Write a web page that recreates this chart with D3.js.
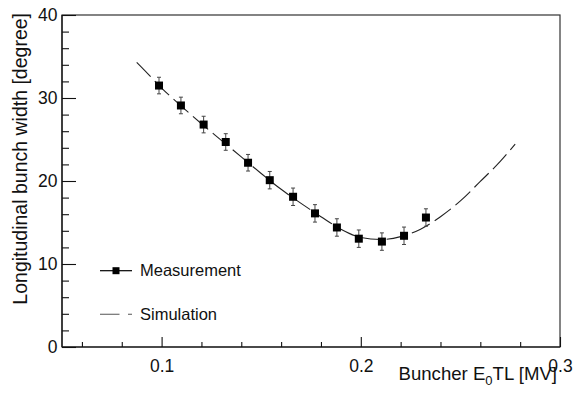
<!DOCTYPE html>
<html>
<head>
<meta charset="utf-8">
<script src="https://cdn.jsdelivr.net/npm/d3@7"></script>
<style>
  html, body { margin: 0; padding: 0; background: #fff; }
  svg { display: block; font-family: "Liberation Sans", Arial, Helvetica, sans-serif; }
</style>
</head>
<body>
<svg id="chart" width="575" height="397"></svg>
<script>
// ---- data ----
const measX   = [0.0987, 0.1097, 0.1211, 0.1322, 0.1434, 0.1543, 0.1660, 0.1770, 0.1880, 0.1990, 0.2106, 0.2217, 0.2327];
const measY   = [31.5, 29.1, 26.8, 24.7, 22.2, 20.1, 18.1, 16.1, 14.4, 13.05, 12.7, 13.4, 15.6];
const measErr = [1.0, 1.0, 1.0, 1.0, 1.0, 1.05, 1.05, 1.05, 1.05, 1.05, 1.05, 1.05, 1.05];

const simX = [0.0875, 0.09, 0.10, 0.11, 0.12, 0.13, 0.14, 0.15, 0.16, 0.17, 0.18, 0.19, 0.20, 0.21, 0.22, 0.23, 0.24, 0.25, 0.26, 0.27, 0.2775];
const simY = [34.3, 33.7, 31.2, 29.0, 26.9, 24.9, 22.9, 20.9, 19.0, 17.3, 15.7, 14.2, 13.2, 12.95, 13.3, 14.2, 15.7, 17.6, 19.95, 22.35, 24.45];

const xMajorTicks = [0.1, 0.2, 0.3];
const xMinorTicks = [0.06, 0.08, 0.12, 0.14, 0.16, 0.18, 0.22, 0.24, 0.26, 0.28];
const yMajorTicks = [0, 10, 20, 30, 40];
const yMinorTicks = [2, 4, 6, 8, 12, 14, 16, 18, 22, 24, 26, 28, 32, 34, 36, 38];

const xTitleMain = "Buncher E";
const xTitleSub = "0";
const xTitleRest = "TL [MV]";
const yTitle = "Longitudinal bunch width [degree]";
const legendLabels = ["Measurement", "Simulation"];

// ---- layout ----
const L = 62, R = 560, T = 15, B = 347;
const svg = d3.select("#chart");
const x = d3.scaleLinear().domain([0.05, 0.3]).range([L, R]);
const y = d3.scaleLinear().domain([0, 40]).range([B, T]);

// frame
svg.append("rect").attr("x", L).attr("y", T).attr("width", R - L).attr("height", B - T)
  .attr("fill", "none").attr("stroke", "#333").attr("stroke-width", 1.2);

function styleAxis(g) {
  g.select(".domain").remove();
  g.selectAll(".tick line").attr("stroke", "#111").attr("stroke-width", 1.1);
  g.selectAll("text").attr("fill", "#111").style("font-size", "17.5px")
    .style("font-family", '"Liberation Sans", Arial, sans-serif');
}

// y axis
svg.append("g").attr("transform", `translate(${L},0)`)
  .call(d3.axisLeft(y).tickValues(yMinorTicks).tickSize(-7).tickSizeOuter(0).tickFormat(""))
  .call(styleAxis);
svg.append("g").attr("transform", `translate(${L},0)`)
  .call(d3.axisLeft(y).tickValues(yMajorTicks).tickSize(-14).tickSizeOuter(0).tickPadding(4.5).tickFormat(d3.format("d")))
  .call(styleAxis);

// x axis
svg.append("g").attr("transform", `translate(0,${B})`)
  .call(d3.axisBottom(x).tickValues(xMinorTicks).tickSize(-5).tickSizeOuter(0).tickFormat(""))
  .call(styleAxis);
svg.append("g").attr("transform", `translate(0,${B})`)
  .call(d3.axisBottom(x).tickValues(xMajorTicks).tickSize(-10).tickSizeOuter(0).tickPadding(13).tickFormat(d3.format(".1f")))
  .call(styleAxis);

// frame lines redraw for left/bottom emphasis
svg.append("line").attr("x1", L).attr("x2", L).attr("y1", T).attr("y2", B).attr("stroke", "#111").attr("stroke-width", 1.2);
svg.append("line").attr("x1", L).attr("x2", R).attr("y1", B).attr("y2", B).attr("stroke", "#111").attr("stroke-width", 1.2);

// simulation curve
const simData = simX.map((d, i) => [d, simY[i]]);
svg.append("path").datum(simData)
  .attr("d", d3.line().x(d => x(d[0])).y(d => y(d[1])).curve(d3.curveMonotoneX))
  .attr("fill", "none").attr("stroke", "#222").attr("stroke-width", 1.1)
  .attr("stroke-dasharray", "20,6");

// measurement error bars + markers
const meas = measX.map((d, i) => ({x: d, y: measY[i], e: measErr[i]}));
const eb = svg.append("g").attr("stroke", "#444").attr("stroke-width", 1);
eb.selectAll("line.v").data(meas).join("line").attr("class", "v")
  .attr("x1", d => x(d.x)).attr("x2", d => x(d.x))
  .attr("y1", d => y(d.y - d.e)).attr("y2", d => y(d.y + d.e));
eb.selectAll("line.t").data(meas).join("line").attr("class", "t")
  .attr("x1", d => x(d.x) - 2).attr("x2", d => x(d.x) + 2)
  .attr("y1", d => y(d.y + d.e)).attr("y2", d => y(d.y + d.e));
eb.selectAll("line.b").data(meas).join("line").attr("class", "b")
  .attr("x1", d => x(d.x) - 2).attr("x2", d => x(d.x) + 2)
  .attr("y1", d => y(d.y - d.e)).attr("y2", d => y(d.y - d.e));
svg.append("g").selectAll("rect").data(meas).join("rect")
  .attr("x", d => x(d.x) - 4).attr("y", d => y(d.y) - 4)
  .attr("width", 8).attr("height", 8).attr("fill", "#000");

// legend
const lg = svg.append("g");
lg.append("line").attr("x1", 100).attr("x2", 132).attr("y1", 270.7).attr("y2", 270.7)
  .attr("stroke", "#000").attr("stroke-width", 1.2);
lg.append("rect").attr("x", 112.5).attr("y", 267.2).attr("width", 7).attr("height", 7).attr("fill", "#000");
lg.append("text").attr("x", 140).attr("y", 276.3).text(legendLabels[0])
  .style("font-size", "16.5px").attr("fill", "#111");
lg.append("line").attr("x1", 100).attr("x2", 132).attr("y1", 314.3).attr("y2", 314.3)
  .attr("stroke", "#555").attr("stroke-width", 1.1).attr("stroke-dasharray", "19.5,8.5");
lg.append("text").attr("x", 140).attr("y", 320.3).text(legendLabels[1])
  .style("font-size", "16.5px").attr("fill", "#111");

// x title
const xt = svg.append("text").attr("x", 557).attr("y", 380).attr("text-anchor", "end")
  .style("font-size", "18.6px").attr("fill", "#111");
xt.append("tspan").text(xTitleMain);
xt.append("tspan").attr("dy", 5).style("font-size", "13px").text(xTitleSub);
xt.append("tspan").attr("dy", -5).text(xTitleRest);

// y title
svg.append("text").attr("transform", "translate(26.5,13) rotate(-90)")
  .attr("text-anchor", "end").style("font-size", "19.5px").attr("fill", "#111")
  .text(yTitle);
</script>
</body>
</html>
